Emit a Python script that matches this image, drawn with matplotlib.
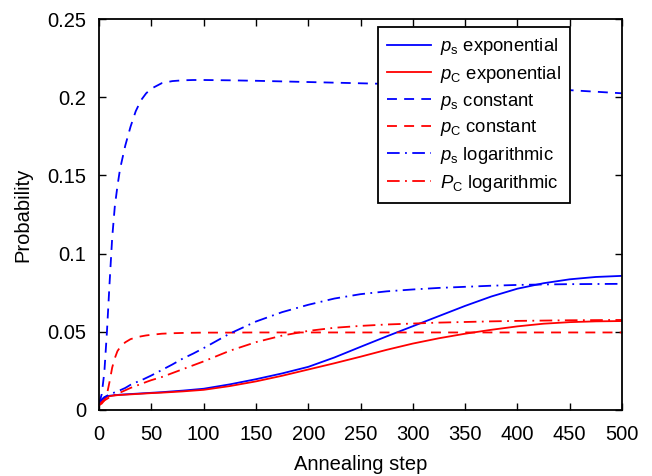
import matplotlib
matplotlib.use("Agg")
import matplotlib.pyplot as plt
import numpy as np
from matplotlib.ticker import FuncFormatter

plt.rcParams['font.family'] = ['Liberation Sans', 'DejaVu Sans']
plt.rcParams['mathtext.fontset'] = 'custom'
plt.rcParams['mathtext.it'] = 'Liberation Sans:italic'
plt.rcParams['mathtext.rm'] = 'Liberation Sans'

steps = [0, 2.5, 5, 7.5, 10, 12.5, 15, 17.5, 20, 25, 30, 35, 40, 45, 50, 60, 70, 80, 90, 100,
         125, 150, 175, 200, 225, 250, 275, 300, 325, 350, 375, 400, 425, 450, 475, 500]

ps_exponential = [0.004, 0.0065, 0.008, 0.0087, 0.009, 0.0092, 0.0094, 0.0095, 0.0097, 0.0099, 0.0101, 0.0103, 0.0105, 0.0107, 0.0109, 0.0113, 0.0118, 0.0123, 0.0129, 0.0135,
                  0.0163, 0.0196, 0.0233, 0.0275, 0.0335, 0.0403, 0.047, 0.0535, 0.060, 0.0665, 0.0725, 0.0775, 0.081, 0.0835, 0.085, 0.0857]
pc_exponential = [0.003, 0.006, 0.0075, 0.0083, 0.0087, 0.009, 0.0092, 0.0094, 0.0095, 0.0097, 0.0099, 0.0101, 0.0103, 0.0105, 0.0107, 0.011, 0.0114, 0.0118, 0.0123, 0.0128,
                  0.0152, 0.0182, 0.0218, 0.0258, 0.0298, 0.034, 0.0384, 0.0424, 0.0458, 0.0487, 0.0512, 0.0534, 0.0551, 0.0561, 0.0566, 0.0568]
ps_constant = [0.004, 0.01, 0.024, 0.05, 0.081, 0.11, 0.13, 0.143, 0.154, 0.169, 0.181, 0.191, 0.198, 0.2025, 0.2055, 0.209, 0.2103, 0.2108, 0.211, 0.211,
               0.2108, 0.2105, 0.2101, 0.2097, 0.2093, 0.2089, 0.2085, 0.208, 0.2075, 0.207, 0.2065, 0.206, 0.2053, 0.2045, 0.2035, 0.2025]
pc_constant = [0.003, 0.004, 0.006, 0.010, 0.018, 0.027, 0.033, 0.0375, 0.040, 0.0432, 0.0452, 0.0463, 0.047, 0.0476, 0.048, 0.0487, 0.049, 0.0492, 0.0493, 0.0494,
               0.0494, 0.0495, 0.0495, 0.0495, 0.0495, 0.0495, 0.0495, 0.0495, 0.0495, 0.0495, 0.0495, 0.0495, 0.0495, 0.0495, 0.0495, 0.0495]
ps_logarithmic = [0.004, 0.0065, 0.008, 0.009, 0.0097, 0.0105, 0.0112, 0.0118, 0.0125, 0.014, 0.016, 0.0175, 0.0188, 0.0204, 0.022, 0.0255, 0.029, 0.0328, 0.036, 0.0395,
                  0.0488, 0.0565, 0.0625, 0.0672, 0.0712, 0.074, 0.0758, 0.077, 0.078, 0.0787, 0.0794, 0.0799, 0.0802, 0.0804, 0.0805, 0.0806]
pc_logarithmic = [0.003, 0.005, 0.006, 0.007, 0.008, 0.0088, 0.0095, 0.0102, 0.011, 0.0125, 0.014, 0.0153, 0.0165, 0.0178, 0.019, 0.021, 0.0235, 0.026, 0.0285, 0.031,
                  0.0378, 0.0433, 0.0475, 0.0505, 0.0525, 0.0537, 0.0546, 0.0552, 0.0558, 0.0562, 0.0566, 0.0569, 0.0571, 0.0573, 0.0574, 0.0575]

x_ticks = [0, 50, 100, 150, 200, 250, 300, 350, 400, 450, 500]
y_ticks = [0, 0.05, 0.1, 0.15, 0.2, 0.25]

fig = plt.figure(figsize=(6.52, 4.76), dpi=100)
ax = fig.add_axes([0.152, 0.139, 0.802, 0.821])

ax.plot(steps, ps_exponential, '-', color='#0000ff', lw=1.3, label=r'$p_\mathrm{s}$ exponential')
ax.plot(steps, pc_exponential, '-', color='#ff0000', lw=1.3, label=r'$p_\mathrm{C}$ exponential')
ax.plot(steps, ps_constant, '--', color='#0000ff', lw=1.3, dashes=(5.5, 4), label=r'$p_\mathrm{s}$ constant')
ax.plot(steps, pc_constant, '--', color='#ff0000', lw=1.3, dashes=(5.5, 4), label=r'$p_\mathrm{C}$ constant')
ax.plot(steps, ps_logarithmic, '-.', color='#0000ff', lw=1.3, dashes=(7, 3, 1, 3), label=r'$p_\mathrm{s}$ logarithmic')
ax.plot(steps, pc_logarithmic, '-.', color='#ff0000', lw=1.3, dashes=(7, 3, 1, 3), label=r'$P_\mathrm{C}$ logarithmic')

ax.set_xlim(0, 500)
ax.set_ylim(0, 0.25)
ax.set_xticks(x_ticks)
ax.set_yticks(y_ticks)
ax.yaxis.set_major_formatter(FuncFormatter(lambda v, p: '%g' % round(v, 3)))
ax.tick_params(direction='in', top=True, right=True, labelsize=14.5, length=5, width=1)
ax.tick_params(axis='x', pad=11)
ax.tick_params(axis='y', pad=9)
for s in ax.spines.values():
    s.set_linewidth(1.3)

ax.set_xlabel('Annealing step', fontsize=14.5, labelpad=8)
ax.set_ylabel('Probability', fontsize=14.5, labelpad=11)

leg = ax.legend(loc='upper right', bbox_to_anchor=(0.9006, 0.9795), borderaxespad=0,
                fontsize=13.3, handlelength=2.4, labelspacing=0.36, borderpad=0.5,
                handletextpad=0.45, fancybox=False, edgecolor='black', framealpha=1)
leg.get_frame().set_linewidth(1.3)

fig.savefig('out.png', dpi=100)
